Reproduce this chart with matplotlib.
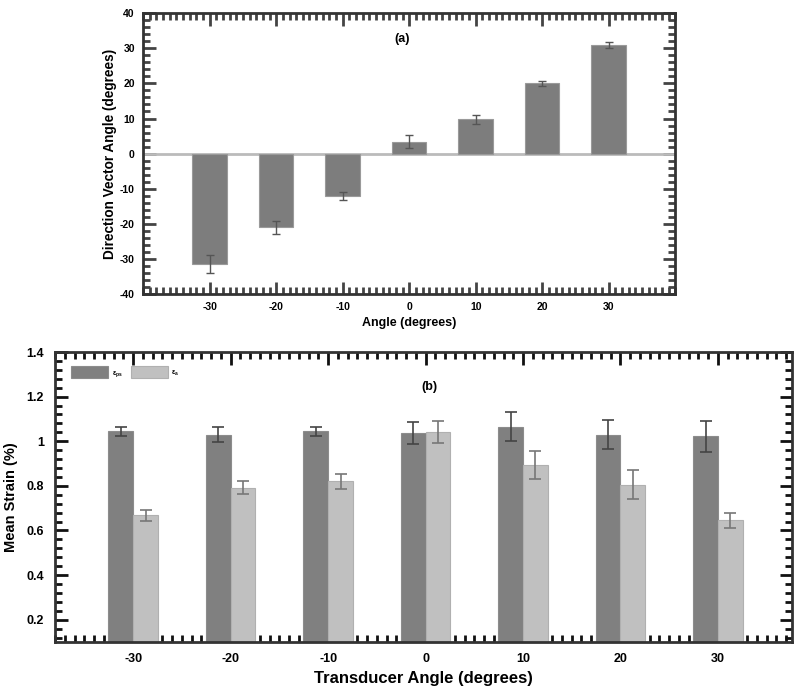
import matplotlib
matplotlib.use("Agg")
import matplotlib.pyplot as plt
from matplotlib.ticker import MultipleLocator
import numpy as np

plt.rcParams['font.family'] = ['Liberation Sans', 'DejaVu Sans']
plt.rcParams['font.weight'] = 'bold'
plt.rcParams['mathtext.default'] = 'regular'
plt.rcParams['axes.unicode_minus'] = False

# Panel (a)
angles_a = [-30, -20, -10, 0, 10, 20, 30]
dir_angle = [-31.5, -21.0, -12.0, 3.4, 9.8, 20.0, 31.0]
dir_err = [2.5, 1.8, 1.2, 1.8, 1.3, 0.8, 0.8]

# Panel (b)
angles_b = [-30, -20, -10, 0, 10, 20, 30]
strain_ps = [1.045, 1.03, 1.045, 1.036, 1.066, 1.03, 1.022]
strain_ps_err = [0.02, 0.035, 0.02, 0.05, 0.064, 0.063, 0.07]
strain_a = [0.668, 0.792, 0.82, 1.04, 0.893, 0.805, 0.645]
strain_a_err = [0.025, 0.028, 0.035, 0.05, 0.064, 0.064, 0.032]
legend_labels = [r'$\epsilon_{ps}$', r'$\epsilon_{a}$']

fig = plt.figure(figsize=(8, 6.92), dpi=100)

def style(ax, xmaj, xmin, ymaj, ymin, tcolor):
    ax.xaxis.set_major_locator(MultipleLocator(xmaj))
    ax.xaxis.set_minor_locator(MultipleLocator(xmin))
    ax.yaxis.set_major_locator(MultipleLocator(ymaj))
    ax.yaxis.set_minor_locator(MultipleLocator(ymin))
    ax.tick_params(which='both', direction='in', top=True, right=True,
                   color=tcolor, width=2)
    ax.tick_params(which='major', length=9)
    ax.tick_params(which='minor', length=5)
    for s in ax.spines.values():
        s.set_linewidth(2)
        s.set_color('#333333')
    ax.set_axisbelow(True)

# ---- Top panel
ax1 = fig.add_axes([0.179, 0.575, 0.665, 0.406])
ax1.axhline(0, color='#bbbbbb', lw=2, zorder=0.8)
ax1.bar(angles_a, dir_angle, width=5.2, color='#7d7d7d', edgecolor='#9a9a9a',
        lw=0.8, zorder=2)
ax1.errorbar(angles_a, dir_angle, yerr=dir_err, fmt='none', ecolor='#555555',
             elinewidth=1, capsize=3, capthick=1, zorder=3)
ax1.set_xlim(-40, 40)
ax1.set_ylim(-40, 40)
style(ax1, 10, 1, 10, 2, '#444444')
ax1.set_xticks(angles_a)
ax1.tick_params(labelsize=7.5, pad=6)
ax1.set_xlabel('Angle (degrees)', fontsize=9, fontweight='bold', labelpad=3)
ax1.set_ylabel('Direction Vector Angle (degrees)', fontsize=9.8, fontweight='bold',
               labelpad=2)
ax1.text(-1, 32.5, '(a)', ha='center', va='center', fontsize=9, fontweight='bold')

# ---- Bottom panel
ax2 = fig.add_axes([0.069, 0.0723, 0.921, 0.419])
x = np.array(angles_b, dtype=float)
w = 2.55
ax2.bar(x - w / 2, strain_ps, width=w, color='#808080', edgecolor='#8c8c8c',
        lw=0.8, zorder=2, label=legend_labels[0])
ax2.bar(x + w / 2, strain_a, width=w, color='#c0c0c0', edgecolor='#b0b0b0',
        lw=0.8, zorder=2, label=legend_labels[1])
ax2.errorbar(x - w / 2, strain_ps, yerr=strain_ps_err, fmt='none', ecolor='#444444',
             elinewidth=1.2, capsize=4, capthick=1.2, zorder=3)
ax2.errorbar(x + w / 2, strain_a, yerr=strain_a_err, fmt='none', ecolor='#777777',
             elinewidth=1.2, capsize=4, capthick=1.2, zorder=3)
ax2.set_xlim(-38, 37.6)
ax2.set_ylim(0.1, 1.4)
style(ax2, 10, 1, 0.2, 0.04, '#111111')
ax2.set_xticks(angles_b)
ax2.set_yticks([0.2, 0.4, 0.6, 0.8, 1.0, 1.2, 1.4])
ax2.set_yticklabels(['0.2', '0.4', '0.6', '0.8', '1', '1.2', '1.4'])
ax2.tick_params(labelsize=9, pad=8)
ax2.set_xlabel('Transducer Angle (degrees)', fontsize=12, fontweight='bold',
               labelpad=4)
ax2.set_ylabel('Mean Strain (%)', fontsize=10.5, fontweight='bold', labelpad=6)
ax2.text(0.4, 1.245, '(b)', ha='center', va='center', fontsize=9, fontweight='bold')
ax2.legend(loc='upper left', ncol=2, frameon=False, fontsize=5,
           handlelength=5.3, handleheight=2.4, columnspacing=1.2,
           handletextpad=0.5, bbox_to_anchor=(0.022, 0.952),
           borderaxespad=0.0, borderpad=0.0)

fig.savefig('out.png', dpi=100)
